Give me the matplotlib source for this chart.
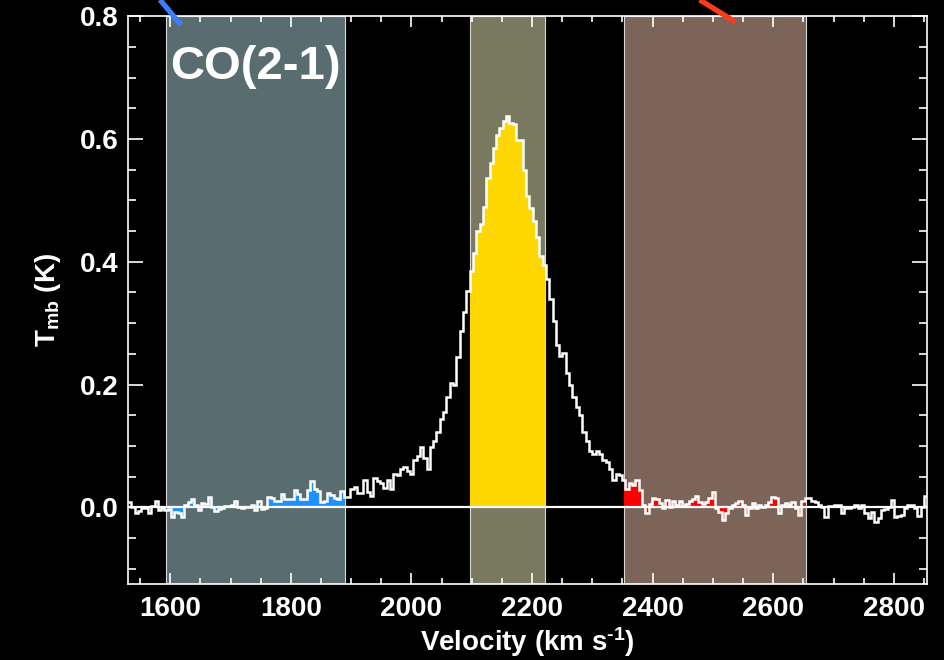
import numpy as np
import matplotlib.pyplot as plt
from matplotlib.ticker import MultipleLocator, FormatStrFormatter

# CO(2-1) spectrum: main-beam temperature (K) per velocity channel
v_start = 1530.0   # lower edge of first channel, km/s
dv = 5.5           # channel width, km/s
tmb = [
    0.009, 0.001, -0.009, -0.006, -0.002, -0.002, -0.009, 0.002, 0.010, -0.005,
    -0.001, -0.005, -0.003, -0.016, -0.007, -0.010, -0.016, 0.004, 0.009, 0.014,
    0.003, -0.005, 0.007, 0.006, 0.017, 0.001, -0.006, -0.003, -0.001, 0.002,
    0.002, 0.003, 0.011, 0.001, -0.001, 0.001, 0.001, 0.004, -0.005, 0.011,
    -0.003, -0.001, 0.017, 0.015, 0.011, 0.011, 0.021, 0.013, 0.014, 0.014,
    0.028, 0.021, 0.013, 0.014, 0.028, 0.042, 0.030, 0.026, 0.009, 0.011,
    0.024, 0.020, 0.015, 0.014, 0.026,
    0.016, 0.016, 0.029, 0.033, 0.023, 0.023, 0.044, 0.025, 0.018, 0.048,
    0.043, 0.039, 0.032, 0.045, 0.030, 0.055, 0.052, 0.063, 0.066, 0.059,
    0.054, 0.077, 0.083, 0.099, 0.081, 0.063, 0.099, 0.108, 0.123, 0.144,
    0.155, 0.180, 0.203, 0.200, 0.245, 0.288, 0.318, 0.353, 0.385, 0.414,
    0.451, 0.461, 0.490,
    0.537, 0.561, 0.586, 0.606, 0.618, 0.629, 0.638, 0.626, 0.625, 0.598,
    0.598, 0.550, 0.508, 0.487, 0.466, 0.440, 0.409, 0.394, 0.372, 0.340,
    0.304, 0.264, 0.246, 0.251, 0.219, 0.199, 0.180, 0.163, 0.151, 0.123,
    0.108, 0.092, 0.086, 0.092, 0.086, 0.077, 0.074, 0.063, 0.045, 0.054,
    0.052, 0.044, 0.030,
    0.040, 0.037, 0.044, 0.028, 0.004, -0.010, 0.006, 0.015, 0.014, 0.007,
    -0.002, 0.012, 0.001, 0.010, 0.004, 0.010, 0.002, 0.005, 0.010, 0.014,
    0.018, 0.009, 0.006, 0.009, 0.015, 0.025, -0.001, -0.008, -0.021, -0.010,
    -0.001, 0.004, 0.007, 0.011, 0.004, -0.012, -0.001, 0.007, -0.001, 0.004,
    0.001, 0.003, 0.009, 0.017, 0.015, -0.010, 0.004, 0.007, 0.004, 0.008,
    -0.001, -0.012, 0.011, 0.015, 0.015, 0.011, 0.009, 0.004, 0.001, -0.016,
    0.002, 0.002, 0.003, 0.003, -0.010, -0.002, -0.001, 0.001, 0.004, -0.002,
    0.003, -0.010, -0.017, -0.008, -0.024, -0.017, -0.005, -0.003, 0.001, 0.012,
    -0.016, -0.014, -0.013, -0.002, 0.003, 0.004, -0.002, -0.014, 0.001, 0.019,
]

# velocity windows: blue wing, line core, red wing
windows = [(1593, 1890), (2097, 2222), (2352, 2654)]
window_colors = ['#596d70', '#79795f', '#7c6459']
fill_colors = ['#1e90ff', '#ffd700', '#ff0000']

line_name = 'CO(2-1)'

# pointer strokes leaving the top of the panel (velocity, Tmb)
pointers = [((1583, 0.827), (1618, 0.786), '#3d7dff'),
            ((2478, 0.827), (2537, 0.791), '#ff3a1a')]

plt.rcParams['font.family'] = ['Liberation Sans', 'DejaVu Sans']
plt.rcParams['font.weight'] = 'bold'
plt.rcParams['axes.labelweight'] = 'bold'
plt.rcParams['axes.unicode_minus'] = False
plt.rcParams['mathtext.fontset'] = 'custom'
plt.rcParams['mathtext.rm'] = 'Liberation Sans:bold'
plt.rcParams['mathtext.it'] = 'Liberation Sans:bold'
plt.rcParams['mathtext.bf'] = 'Liberation Sans:bold'

tmb = np.array(tmb)
edges = v_start + dv * np.arange(len(tmb) + 1)

fig = plt.figure(figsize=(9.44, 6.6), dpi=100, facecolor='black')
ax = fig.add_axes([0.1356, 0.1152, 0.8464, 0.86])
ax.set_facecolor('black')

for (lo, hi), wc, fc in zip(windows, window_colors, fill_colors):
    ax.axvspan(lo, hi, facecolor=wc, edgecolor='#d8d8d8', lw=0.8, zorder=1)
    sel = np.where((edges[1:] > lo) & (edges[:-1] < hi))[0]
    e = edges[sel[0]:sel[-1] + 2].copy()
    e[0], e[-1] = max(e[0], lo), min(e[-1], hi)
    ax.stairs(tmb[sel], e, baseline=0, fill=True, color=fc, zorder=2)

ax.axhline(0, color='white', lw=1.6, zorder=3)
ax.stairs(tmb, edges, baseline=None, color='white', lw=1.8, zorder=4)

for (x0, y0), (x1, y1), c in pointers:
    ax.plot([x0, x1], [y0, y1], color=c, lw=3.8, clip_on=False,
            solid_capstyle='butt', zorder=6)

ax.text(1600, 0.698, line_name, fontsize=34, color='white',
        fontweight='bold', zorder=5)

ax.set_xlim(1530, 2855)
ax.set_ylim(-0.125, 0.8)
ax.set_xticks(np.arange(1600, 2801, 200))
ax.xaxis.set_minor_locator(MultipleLocator(50))
ax.set_yticks([0.0, 0.2, 0.4, 0.6, 0.8])
ax.yaxis.set_minor_locator(MultipleLocator(0.05))
ax.yaxis.set_major_formatter(FormatStrFormatter('%.1f'))

ax.tick_params(which='both', direction='in', top=True, right=True,
               colors='white', labelsize=20, width=1.2)
ax.tick_params(axis='y', which='major', length=11, pad=7)
ax.tick_params(axis='y', which='minor', length=5.5)
ax.tick_params(axis='x', which='major', length=8, pad=9)
ax.tick_params(axis='x', which='minor', length=4)
for s in ax.spines.values():
    s.set_color('white')
    s.set_linewidth(1.2)

ax.set_xlabel(r'Velocity (km s$^{\text{-}1}$)', fontsize=20, color='white',
              fontweight='bold', labelpad=2)
ax.set_ylabel(r'T$_{\rm mb}$ (K)', fontsize=20, color='white',
              fontweight='bold', labelpad=12)

fig.savefig('out.png', dpi=100, facecolor='black')
